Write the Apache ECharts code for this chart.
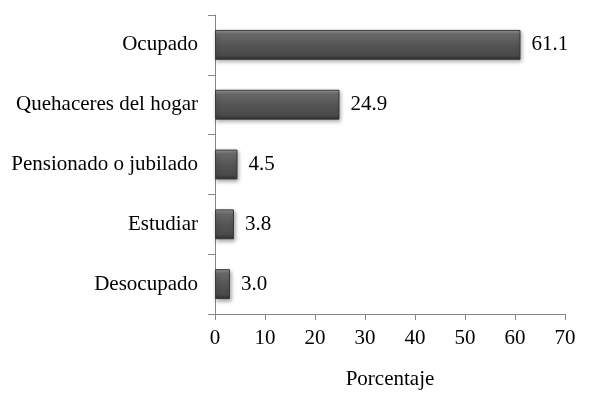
<!DOCTYPE html>
<html><head><meta charset="utf-8">
<script src="https://cdn.jsdelivr.net/npm/echarts@6/dist/echarts.min.js"></script>
<style>html,body{margin:0;padding:0;background:#fff}#c{width:589px;height:395px}</style>
</head><body><div id="c"></div>
<script>
const categories = ['Desocupado', 'Estudiar', 'Pensionado o jubilado', 'Quehaceres del hogar', 'Ocupado'];
const values = [3.0, 3.8, 4.5, 24.9, 61.1];
const xTicks = [0, 10, 20, 30, 40, 50, 60, 70];

const font = '"Liberation Serif", "Times New Roman", serif';
const chart = echarts.init(document.getElementById('c'));
chart.setOption({
  animation: false,
  grid: { left: 215, right: 24, top: 15, bottom: 80, containLabel: false },
  xAxis: {
    type: 'value', min: xTicks[0], max: xTicks[xTicks.length - 1], interval: 10,
    name: 'Porcentaje', nameLocation: 'middle', nameGap: 55,
    nameTextStyle: { fontFamily: font, fontSize: 21, color: '#000' },
    axisLine: { show: true, lineStyle: { color: '#868686' } },
    axisTick: { show: true, length: 6, lineStyle: { color: '#868686' } },
    axisLabel: { fontFamily: font, fontSize: 21, color: '#000', margin: 14 },
    splitLine: { show: false }
  },
  yAxis: {
    type: 'category', data: categories,
    axisLine: { show: true, lineStyle: { color: '#868686' } },
    axisTick: { show: true, length: 7, lineStyle: { color: '#868686' } },
    axisLabel: { fontFamily: font, fontSize: 21, color: '#000', margin: 17 }
  },
  series: [{
    type: 'bar', data: values, barWidth: '50%',
    itemStyle: {
      color: new echarts.graphic.LinearGradient(0, 0, 0, 1, [
        { offset: 0, color: '#9a9a9a' },
        { offset: 0.15, color: '#6a6a6a' },
        { offset: 0.5, color: '#555555' },
        { offset: 0.85, color: '#4a4a4a' },
        { offset: 1, color: '#2e2e2e' }
      ]),
      borderColor: '#3a3a3a', borderWidth: 1,
      shadowColor: 'rgba(0,0,0,0.35)', shadowBlur: 4, shadowOffsetX: 1, shadowOffsetY: 2
    },
    label: {
      show: true, position: 'right', distance: 11,
      fontFamily: font, fontSize: 21, color: '#000',
      formatter: p => p.value.toFixed(1)
    }
  }]
});
</script></body></html>
